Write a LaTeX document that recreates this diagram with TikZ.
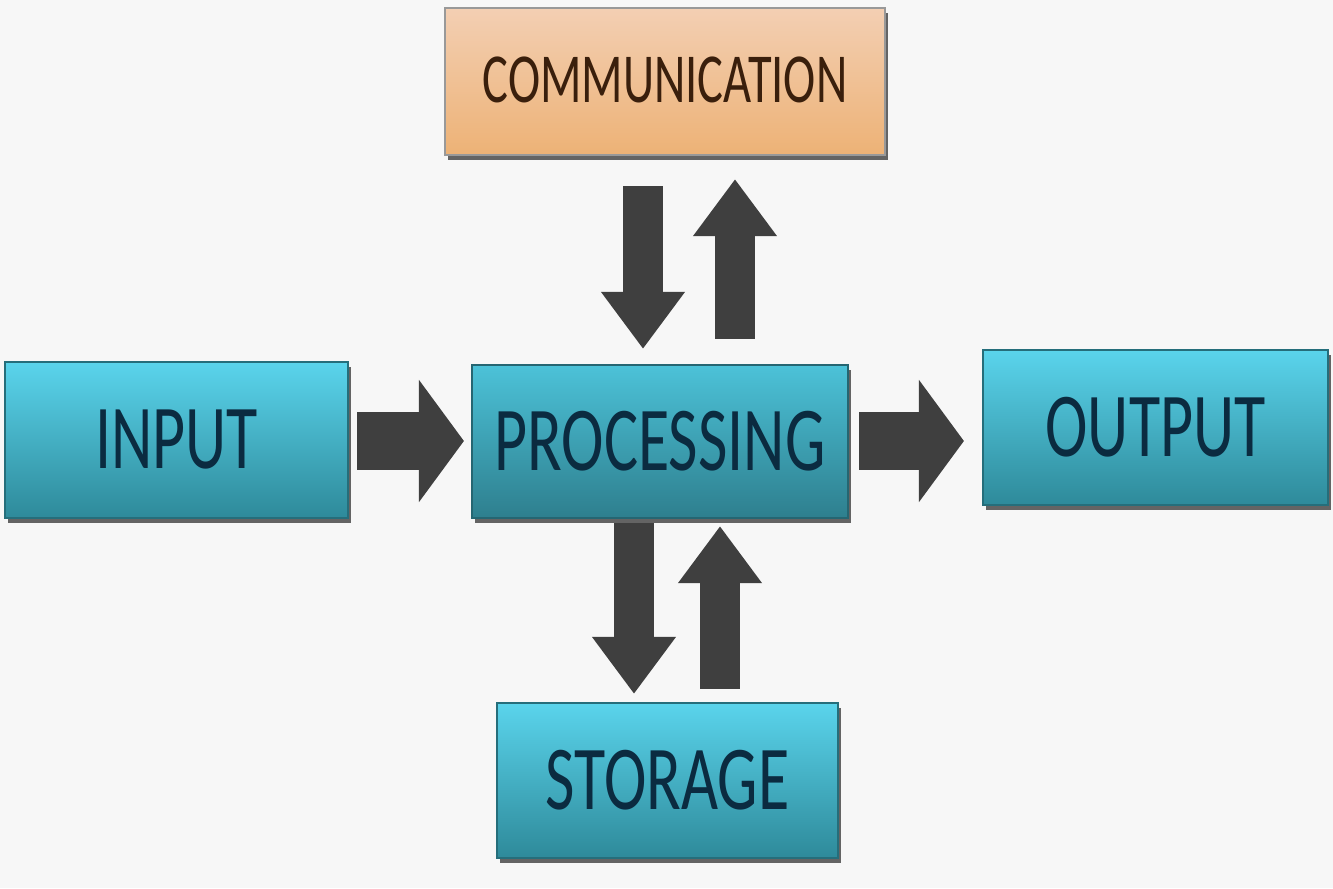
\documentclass[tikz,border=0pt]{standalone}
\usepackage{fontspec}
\newfontfamily\lbl{Carlito}
\usetikzlibrary{arrows.meta,shadows,calc}
\definecolor{bgc}{HTML}{F7F7F7}
\definecolor{arrowc}{HTML}{3F3F3F}
\definecolor{txtblue}{HTML}{0B2B40}
\definecolor{txtbrown}{HTML}{3A1F0C}
\definecolor{intop}{HTML}{5AD4EC}
\definecolor{inmid}{HTML}{34A9D8}
\definecolor{inbot}{HTML}{2E8A9A}
\definecolor{prtop}{HTML}{4CC2D8}
\definecolor{prmid}{HTML}{3A9DB0}
\definecolor{prbot}{HTML}{2E7F8E}
\definecolor{peachtop}{HTML}{F3CFB3}
\definecolor{peachmid}{HTML}{EEC8A2}
\definecolor{peachbot}{HTML}{EDB276}
\begin{document}
\begin{tikzpicture}[
  boxshadow/.style={drop shadow={shadow xshift=0.03cm, shadow yshift=-0.05cm, opacity=0.75, fill=black!80}},
  bluebox/.style={boxshadow, draw=inbot!80!black, line width=0.6pt, inner sep=0pt, top color=intop, middle color=inmid, bottom color=inbot, text=txtblue},
  procbox/.style={boxshadow, draw=prbot!80!black, line width=0.6pt, inner sep=0pt, top color=prtop, middle color=prmid, bottom color=prbot, text=txtblue},
  peachbox/.style={boxshadow, draw=black!40, line width=0.6pt, inner sep=0pt, top color=peachtop, middle color=peachmid, bottom color=peachbot, text=txtbrown},
  bigh/.style={arrowc, line width=0.58cm, -{Triangle[length=0.45cm, width=1.2cm]}},
  bigv/.style={arrowc, line width=0.40cm, -{Triangle[length=0.57cm, width=0.8cm]}},
  labeltext/.style={font=\lbl\fontsize{26}{30}\selectfont}
]
\useasboundingbox (0,0) rectangle (13.33,8.88);
\fill[bgc] (0,0) rectangle (13.33,8.88);

% boxes
\node[bluebox, minimum width=3.43cm, minimum height=1.56cm, labeltext] (input) at (1.765,4.48) {\scalebox{0.7}[1]{INPUT}};
\node[procbox, minimum width=3.76cm, minimum height=1.53cm, labeltext] (proc) at (6.60,4.465) {\scalebox{0.7}[1]{PROCESSING}};
\node[bluebox, minimum width=3.45cm, minimum height=1.55cm, labeltext] (output) at (11.555,4.605) {\scalebox{0.7}[1]{OUTPUT}};
\node[peachbox, minimum width=4.40cm, minimum height=1.47cm, font=\lbl\fontsize{20}{24}\selectfont] (comm) at (6.65,8.065) {\raisebox{0.04cm}{\scalebox{0.69}[1]{COMMUNICATION}}};
\node[bluebox, minimum width=3.41cm, minimum height=1.55cm, labeltext] (storage) at (6.675,1.075) {\scalebox{0.7}[1]{STORAGE}};

% x positions of vertical arrows
\coordinate (xa) at (6.43,0);
\coordinate (xb) at (7.35,0);
\coordinate (xc) at (6.34,0);
\coordinate (xd) at (7.20,0);

% horizontal arrows
\draw[bigh, shorten <=0.08cm, shorten >=0.07cm] (input.east |- 0,4.47) -- (proc.west |- 0,4.47);
\draw[bigh, shorten <=0.10cm, shorten >=0.18cm] (proc.east |- 0,4.47) -- (output.west |- 0,4.47);

% vertical arrows
\draw[bigv, shorten <=0.30cm, shorten >=0.15cm] (comm.south -| xa) -- (proc.north -| xa);
\draw[bigv, shorten <=0.25cm, shorten >=0.23cm] (proc.north -| xb) -- (comm.south -| xb);
\draw[bigv, shorten <=0.04cm, shorten >=0.08cm] (proc.south -| xc) -- (storage.north -| xc);
\draw[bigv, shorten <=0.13cm, shorten >=0.07cm] (storage.north -| xd) -- (proc.south -| xd);
\end{tikzpicture}
\end{document}
